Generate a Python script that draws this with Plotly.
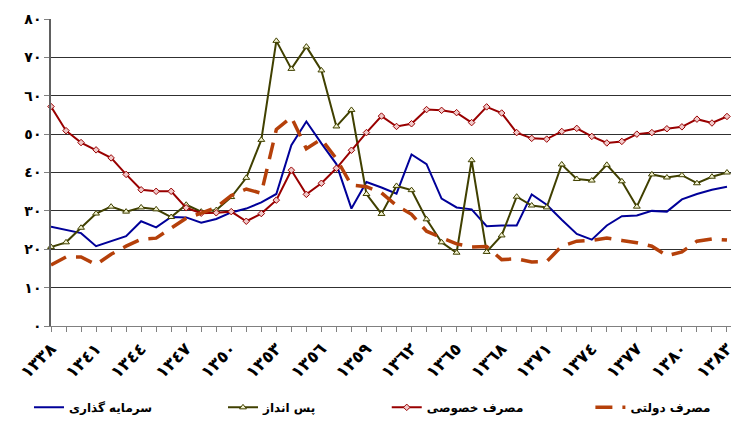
import plotly.graph_objects as go

years = list(range(1338, 1384))

investment = [25.9, 25.1, 24.2, 20.8, 22.1, 23.4, 27.3, 25.7, 28.4, 28.3,
              26.9, 27.9, 29.6, 30.6, 32.2, 34.4, 47.1, 53.3, 47.6, 42.2,
              30.6, 37.5, 36.1, 34.5, 44.7, 42.2, 33.2, 30.9, 30.4, 26.0,
              26.2, 26.2, 34.3, 31.6, 27.7, 24.0, 22.5, 26.2, 28.6, 28.8,
              30.0, 29.8, 33.0, 34.4, 35.5, 36.3]

saving = [20.6, 21.8, 25.6, 29.3, 31.1, 29.8, 30.9, 30.4, 28.4, 31.6,
          29.8, 30.2, 33.6, 38.6, 48.5, 74.3, 67.0, 72.8, 66.6, 52.0,
          56.3, 34.4, 29.2, 36.5, 35.4, 27.8, 21.8, 19.1, 43.2, 19.3,
          23.6, 33.7, 31.4, 30.9, 42.1, 38.3, 37.9, 42.0, 37.7, 31.1,
          39.5, 38.7, 39.3, 37.2, 38.9, 40.0]

private_consumption = [57.2, 50.9, 47.8, 45.9, 43.8, 39.5, 35.5, 35.1, 35.1, 30.8,
                       29.4, 29.5, 29.8, 27.3, 29.3, 32.8, 40.6, 34.3, 37.2, 41.1,
                       45.8, 50.4, 54.7, 52.0, 52.7, 56.4, 56.2, 55.6, 53.0, 57.1,
                       55.5, 50.4, 48.9, 48.7, 50.7, 51.5, 49.4, 47.7, 48.1, 50.0,
                       50.4, 51.4, 51.9, 53.9, 52.9, 54.6]

government_consumption = [15.9, 18.0, 18.0, 16.0, 18.7, 20.8, 22.6, 22.9, 25.5, 28.1,
                          29.4, 30.9, 34.0, 35.7, 34.6, 51.2, 54.4, 46.2, 48.7, 43.6,
                          36.7, 36.3, 34.7, 31.4, 29.1, 24.7, 23.0, 21.4, 20.6, 20.7,
                          17.3, 17.5, 16.7, 16.8, 20.8, 22.1, 22.3, 22.9, 22.3, 21.7,
                          20.8, 18.3, 19.3, 22.1, 22.7, 22.4]

series_names = ["سرمایه گذاری", "پس انداز", "مصرف خصوصی", "مصرف دولتی"]
y_tick_values = [0, 10, 20, 30, 40, 50, 60, 70, 80]

DIGITS = str.maketrans("0123456789", "٠١٢٣٤٥٦٧٨٩")


def ar(n):
    return str(n).translate(DIGITS)


x_ticktext = [ar(y) if (y - years[0]) % 3 == 0 else "" for y in years]
y_ticktext = [ar(v) for v in y_tick_values]

FONT = "DejaVu Sans"

fig = go.Figure()
fig.add_trace(go.Scatter(
    x=years, y=investment, name=series_names[0], mode="lines",
    line=dict(color="#000099", width=2), cliponaxis=False, legend="legend"))
fig.add_trace(go.Scatter(
    x=years, y=saving, name=series_names[1], mode="lines+markers",
    line=dict(color="#404000", width=2),
    marker=dict(symbol="triangle-up", size=6, color="#F2F2D0",
                line=dict(color="#404000", width=1)),
    cliponaxis=False, legend="legend2"))
fig.add_trace(go.Scatter(
    x=years, y=private_consumption, name=series_names[2], mode="lines+markers",
    line=dict(color="#990000", width=2),
    marker=dict(symbol="diamond", size=5, color="#F0C8C8",
                line=dict(color="#990000", width=1)),
    cliponaxis=False, legend="legend3"))
fig.add_trace(go.Scatter(
    x=years, y=government_consumption, name=series_names[3], mode="lines",
    line=dict(color="#B5400A", width=3.5, dash="17px,10px"), cliponaxis=False,
    legend="legend4"))


def legend_at(xpos):
    return dict(orientation="h", x=xpos, xanchor="left", y=-0.265, yanchor="middle",
                font=dict(family=FONT, size=12, weight="bold"),
                bgcolor="rgba(0,0,0,0)")


# the page adds an 8px body margin, so the figure is 8px smaller than the window
fig.update_layout(
    width=731, height=424,
    margin=dict(l=43, r=0, t=10.5, b=106, autoexpand=False),
    paper_bgcolor="white", plot_bgcolor="white",
    font=dict(family=FONT, size=12, color="black"),
    showlegend=True,
    legend=legend_at(-0.032),
    legend2=legend_at(0.250),
    legend3=legend_at(0.488),
    legend4=legend_at(0.784),
)
fig.update_xaxes(
    range=[years[0], years[-1] + 0.8],
    tickmode="array", tickvals=years, ticktext=x_ticktext, tickangle=-45,
    ticks="outside", ticklen=5, tickcolor="#808080",
    showline=True, linecolor="#808080", linewidth=1,
    showgrid=False, zeroline=False, automargin=False,
    ticklabeloverflow="allow",
    tickfont=dict(family=FONT, size=17, weight="bold"),
)
fig.update_yaxes(
    range=[0, 80],
    tickmode="array", tickvals=y_tick_values, ticktext=y_ticktext,
    ticks="outside", ticklen=5, tickcolor="#808080",
    showline=True, linecolor="#606060", linewidth=1.5,
    showgrid=True, gridcolor="#303030", gridwidth=1,
    zeroline=False, automargin=False,
    tickfont=dict(family=FONT, size=14, weight="bold"),
)

fig.write_html("out.html")
